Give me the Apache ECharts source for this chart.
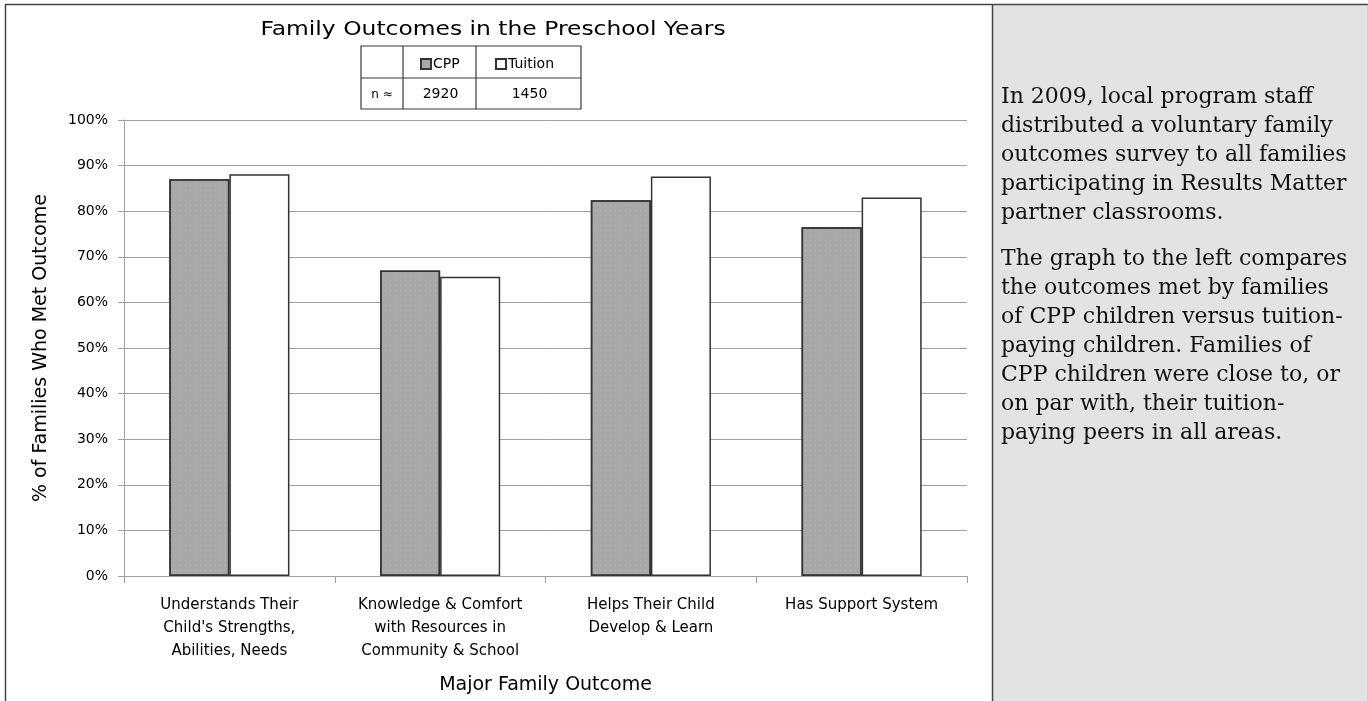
<!DOCTYPE html>
<html>
<head>
<meta charset="utf-8">
<title>Family Outcomes in the Preschool Years</title>
<script src="https://cdn.jsdelivr.net/npm/echarts@6/dist/echarts.min.js"></script>
<style>
  html, body { margin: 0; padding: 0; background: #fff; }
  #chart { width: 1368px; height: 701px; }
</style>
</head>
<body>
<div id="chart"></div>
<script>
// Outcome categories (axis labels wrap onto several lines)
const categories = [
  "Understands Their\nChild's Strengths,\nAbilities, Needs",
  "Knowledge & Comfort\nwith Resources in\nCommunity & School",
  "Helps Their Child\nDevelop & Learn",
  "Has Support System"
];
// Percent of families who met each outcome
const cppValues = [87.0, 67.0, 82.4, 76.5];
const tuitionValues = [88.1, 65.6, 87.6, 83.0];
// Approximate number of families per group
const groupNames = ["CPP", "Tuition"];
const sampleSizes = ["2920", "1450"];
// Y axis ticks
const yMin = 0, yMax = 100, yStep = 10;

const chartTitle = "Family Outcomes in the Preschool Years";

// Side-panel commentary, one entry per rendered line
const paragraphOne = [
  "In 2009, local program staff",
  "distributed a voluntary family",
  "outcomes survey to all families",
  "participating in Results Matter",
  "partner classrooms."
];
const paragraphTwo = [
  "The graph to the left compares",
  "the outcomes met by families",
  "of CPP children versus tuition-",
  "paying children. Families of",
  "CPP children were close to, or",
  "on par with, their tuition-",
  "paying peers in all areas."
];

const chartFont = "DejaVu Sans";
const gridColor = "#a0a0a0";
const edgeColor = "#333";

const chart = echarts.init(document.getElementById("chart"), null, { renderer: "canvas" });

// Sample-size table under the title: columns and rows
const tbl = { x0: 361, x1: 403, x2: 476, x3: 581, y0: 46, y1: 78, y2: 109 };
const tableLine = { stroke: "#3a3a3a", lineWidth: 1.2 };

const tableGraphics = [
  { type: "rect", shape: { x: tbl.x0, y: tbl.y0, width: tbl.x3 - tbl.x0, height: tbl.y2 - tbl.y0 },
    style: Object.assign({ fill: "#fff" }, tableLine), z: 1 },
  { type: "line", shape: { x1: tbl.x0, y1: tbl.y1, x2: tbl.x3, y2: tbl.y1 }, style: tableLine, z: 2 },
  { type: "line", shape: { x1: tbl.x1, y1: tbl.y0, x2: tbl.x1, y2: tbl.y2 }, style: tableLine, z: 2 },
  { type: "line", shape: { x1: tbl.x2, y1: tbl.y0, x2: tbl.x2, y2: tbl.y2 }, style: tableLine, z: 2 },
  { type: "text", x: (tbl.x0 + tbl.x1) / 2, y: (tbl.y1 + tbl.y2) / 2 + 1, z: 3,
    style: { text: "n \u2248", font: "12px " + chartFont, fill: "#000", align: "center", verticalAlign: "middle" } },
  { type: "text", x: (tbl.x1 + tbl.x2) / 2 + 1, y: (tbl.y1 + tbl.y2) / 2 + 1, z: 3,
    style: { text: sampleSizes[0], font: "14px " + chartFont, fill: "#000", align: "center", verticalAlign: "middle" } },
  { type: "text", x: (tbl.x2 + tbl.x3) / 2 + 1, y: (tbl.y1 + tbl.y2) / 2 + 1, z: 3,
    style: { text: sampleSizes[1], font: "14px " + chartFont, fill: "#000", align: "center", verticalAlign: "middle" } }
];

// Chart title, drawn slightly widened
const titleGraphics = [
  { type: "text", x: 493, y: 30, scaleX: 1.17, z: 3,
    style: { text: chartTitle, font: "20px " + chartFont, fill: "#000", align: "center", verticalAlign: "middle" } }
];

// Page frame and the grey commentary panel on the right
const frameGraphics = [
  { type: "rect", shape: { x: 993, y: 5, width: 375, height: 696 }, style: { fill: "#e3e3e3" }, z: 0 },
  { type: "line", shape: { x1: 5, y1: 4.5, x2: 1368, y2: 4.5 }, style: { stroke: "#444", lineWidth: 1.5 }, z: 5 },
  { type: "line", shape: { x1: 5.5, y1: 4, x2: 5.5, y2: 701 }, style: { stroke: "#444", lineWidth: 1.5 }, z: 5 },
  { type: "line", shape: { x1: 992.5, y1: 4, x2: 992.5, y2: 701 }, style: { stroke: "#444", lineWidth: 1.5 }, z: 5 },
  { type: "line", shape: { x1: 1367.5, y1: 5, x2: 1367.5, y2: 701 }, style: { stroke: "#cfcfcf", lineWidth: 1 }, z: 5 },
  { type: "text", x: 1001, y: 83, z: 6,
    style: { text: paragraphOne.join("\n"), font: "22px 'DejaVu Serif'", lineHeight: 29, fill: "#111", align: "left", verticalAlign: "top" } },
  { type: "text", x: 1001, y: 245, z: 6,
    style: { text: paragraphTwo.join("\n"), font: "22px 'DejaVu Serif'", lineHeight: 29, fill: "#111", align: "left", verticalAlign: "top" } }
];

// Fine, faint stipple on the CPP bars
const stipple = {
  symbol: "rect",
  symbolSize: 1,
  dashArrayX: [[1, 4]],
  dashArrayY: [1, 4],
  rotation: 0,
  color: "rgba(200,200,200,0.45)"
};

const option = {
  animation: false,
  backgroundColor: "#fff",
  textStyle: { fontFamily: chartFont, color: "#000" },
  legend: [
    { data: [groupNames[0]], left: 420, top: 57, padding: 0, icon: "rect", itemWidth: 10, itemHeight: 10, itemGap: 0,
      textStyle: { fontFamily: chartFont, fontSize: 14, color: "#000", padding: [0, 0, 0, -3] }, selectedMode: false, z: 4 },
    { data: [groupNames[1]], left: 495, top: 57, padding: 0, icon: "rect", itemWidth: 10, itemHeight: 10, itemGap: 0,
      textStyle: { fontFamily: chartFont, fontSize: 14, color: "#000", padding: [0, 0, 0, -3] }, selectedMode: false, z: 4 }
  ],
  grid: { left: 124, right: 401, top: 120, bottom: 125, containLabel: false },
  xAxis: {
    type: "category",
    data: categories,
    name: "Major Family Outcome",
    nameLocation: "middle",
    nameGap: 100,
    nameTextStyle: { fontFamily: chartFont, fontSize: 19, color: "#000" },
    axisLine: { lineStyle: { color: gridColor, width: 1 } },
    axisTick: { show: true, length: 7, lineStyle: { color: gridColor } },
    axisLabel: { interval: 0, fontSize: 15, lineHeight: 23, margin: 18, color: "#000", fontFamily: chartFont }
  },
  yAxis: {
    type: "value",
    min: yMin,
    max: yMax,
    interval: yStep,
    name: "% of Families Who Met Outcome",
    nameLocation: "middle",
    nameGap: 73,
    nameTextStyle: { fontFamily: chartFont, fontSize: 19, color: "#000" },
    axisLine: { show: true, lineStyle: { color: gridColor, width: 1 } },
    axisTick: { show: true, length: 6, lineStyle: { color: gridColor } },
    axisLabel: { formatter: "{value}%", fontSize: 14, margin: 16, color: "#000", fontFamily: chartFont },
    splitLine: { show: true, lineStyle: { color: gridColor, width: 1 } }
  },
  series: [
    {
      name: groupNames[0],
      type: "bar",
      data: cppValues,
      barGap: "0%",
      barCategoryGap: "43%",
      itemStyle: { color: "#a8a8a8", borderColor: edgeColor, borderWidth: 1.5, decal: stipple }
    },
    {
      name: groupNames[1],
      type: "bar",
      data: tuitionValues,
      barGap: "0%",
      barCategoryGap: "43%",
      itemStyle: { color: "#ffffff", borderColor: edgeColor, borderWidth: 1.5 }
    }
  ],
  graphic: { elements: frameGraphics.concat(tableGraphics, titleGraphics) }
};

chart.setOption(option);
</script>
</body>
</html>
